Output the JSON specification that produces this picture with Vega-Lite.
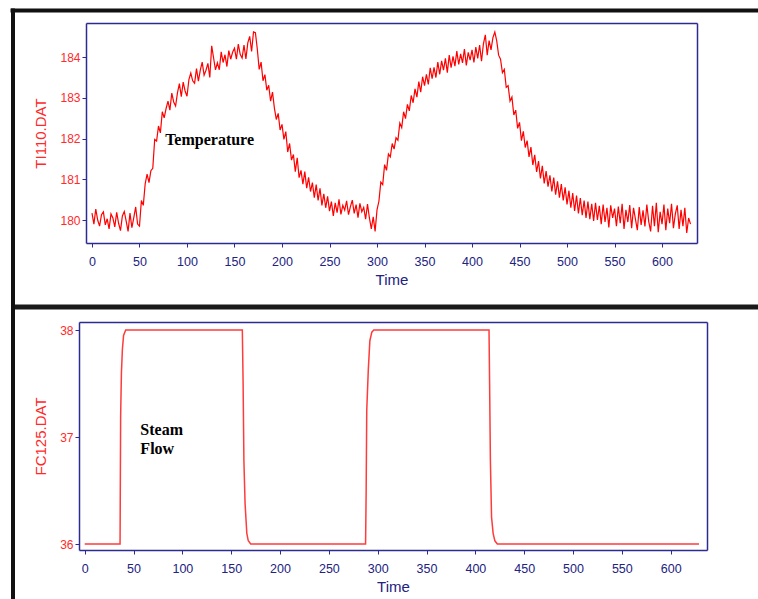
{
  "$schema": "https://vega.github.io/schema/vega-lite/v6.json",
  "width": 758,
  "height": 599,
  "autosize": {"type": "none"},
  "padding": 0,
  "background": "white",
  "config": {"view": {"stroke": null}},
  "datasets": {
    "temp": [
      {"t":0,"v":180.17},{"t":2,"v":179.90},{"t":4,"v":180.27},{"t":6,"v":180.00},{"t":8,"v":179.85},{"t":10,"v":180.13},{"t":12,"v":180.20},{"t":14,"v":179.88},{"t":16,"v":180.03},{"t":18,"v":179.78},
      {"t":20,"v":180.15},{"t":22,"v":180.05},{"t":24,"v":179.83},{"t":26,"v":180.19},{"t":28,"v":179.92},{"t":30,"v":179.74},{"t":32,"v":180.10},{"t":34,"v":180.21},{"t":36,"v":179.97},{"t":38,"v":179.72},
      {"t":40,"v":180.17},{"t":42,"v":179.81},{"t":44,"v":180.06},{"t":46,"v":180.32},{"t":48,"v":179.90},{"t":50,"v":179.85},{"t":52,"v":180.48},{"t":54,"v":180.36},{"t":56,"v":180.89},{"t":58,"v":181.13},
      {"t":60,"v":180.92},{"t":62,"v":181.21},{"t":64,"v":181.27},{"t":66,"v":181.98},{"t":68,"v":181.94},{"t":70,"v":182.31},{"t":72,"v":182.14},{"t":74,"v":182.66},{"t":76,"v":182.51},{"t":78,"v":182.74},
      {"t":80,"v":182.92},{"t":82,"v":182.70},{"t":84,"v":183.12},{"t":86,"v":182.90},{"t":88,"v":182.80},{"t":90,"v":183.13},{"t":92,"v":183.35},{"t":94,"v":183.03},{"t":96,"v":183.39},{"t":98,"v":183.17},
      {"t":100,"v":183.04},{"t":102,"v":183.45},{"t":104,"v":183.61},{"t":106,"v":183.42},{"t":108,"v":183.36},{"t":110,"v":183.72},{"t":112,"v":183.41},{"t":114,"v":183.68},{"t":116,"v":183.88},{"t":118,"v":183.56},
      {"t":120,"v":183.68},{"t":122,"v":183.85},{"t":124,"v":183.50},{"t":126,"v":184.28},{"t":128,"v":183.98},{"t":130,"v":183.69},{"t":132,"v":183.86},{"t":134,"v":183.69},{"t":136,"v":184.13},{"t":138,"v":183.87},
      {"t":140,"v":184.06},{"t":142,"v":183.77},{"t":144,"v":184.16},{"t":146,"v":183.95},{"t":148,"v":184.12},{"t":150,"v":184.22},{"t":152,"v":183.95},{"t":154,"v":184.32},{"t":156,"v":184.07},{"t":158,"v":183.98},
      {"t":160,"v":184.30},{"t":162,"v":183.96},{"t":164,"v":184.35},{"t":166,"v":184.51},{"t":168,"v":184.14},{"t":170,"v":184.62},{"t":172,"v":184.60},{"t":174,"v":184.20},{"t":176,"v":183.70},{"t":178,"v":183.88},
      {"t":180,"v":183.42},{"t":182,"v":183.57},{"t":184,"v":183.19},{"t":186,"v":183.31},{"t":188,"v":182.92},{"t":190,"v":183.14},{"t":192,"v":182.75},{"t":194,"v":182.47},{"t":196,"v":182.62},{"t":198,"v":182.21},
      {"t":200,"v":182.35},{"t":202,"v":181.98},{"t":204,"v":182.17},{"t":206,"v":181.67},{"t":208,"v":181.88},{"t":210,"v":181.47},{"t":212,"v":181.61},{"t":214,"v":181.19},{"t":216,"v":181.53},{"t":218,"v":181.04},
      {"t":220,"v":181.22},{"t":222,"v":180.88},{"t":224,"v":181.19},{"t":226,"v":180.78},{"t":228,"v":181.05},{"t":230,"v":180.70},{"t":232,"v":180.92},{"t":234,"v":180.55},{"t":236,"v":180.87},{"t":238,"v":180.48},
      {"t":240,"v":180.78},{"t":242,"v":180.36},{"t":244,"v":180.64},{"t":246,"v":180.30},{"t":248,"v":180.58},{"t":250,"v":180.22},{"t":252,"v":180.45},{"t":254,"v":180.10},{"t":256,"v":180.42},{"t":258,"v":180.18},
      {"t":260,"v":180.51},{"t":262,"v":180.14},{"t":264,"v":180.36},{"t":266,"v":180.24},{"t":268,"v":180.47},{"t":270,"v":180.13},{"t":272,"v":180.33},{"t":274,"v":180.49},{"t":276,"v":180.16},{"t":278,"v":180.38},
      {"t":280,"v":180.06},{"t":282,"v":180.41},{"t":284,"v":180.20},{"t":286,"v":180.31},{"t":288,"v":180.02},{"t":290,"v":180.39},{"t":292,"v":180.05},{"t":294,"v":179.78},{"t":296,"v":180.08},{"t":298,"v":179.72},
      {"t":300,"v":180.25},{"t":302,"v":180.46},{"t":304,"v":180.93},{"t":306,"v":180.87},{"t":308,"v":181.36},{"t":310,"v":181.22},{"t":312,"v":181.62},{"t":314,"v":181.55},{"t":316,"v":181.88},{"t":318,"v":181.74},
      {"t":320,"v":182.02},{"t":322,"v":181.96},{"t":324,"v":182.38},{"t":326,"v":182.27},{"t":328,"v":182.66},{"t":330,"v":182.49},{"t":332,"v":182.84},{"t":334,"v":182.68},{"t":336,"v":183.06},{"t":338,"v":182.88},
      {"t":340,"v":183.22},{"t":342,"v":183.02},{"t":344,"v":183.40},{"t":346,"v":183.14},{"t":348,"v":183.52},{"t":350,"v":183.30},{"t":352,"v":183.58},{"t":354,"v":183.33},{"t":356,"v":183.74},{"t":358,"v":183.47},
      {"t":360,"v":183.75},{"t":362,"v":183.50},{"t":364,"v":183.88},{"t":366,"v":183.58},{"t":368,"v":183.91},{"t":370,"v":183.68},{"t":372,"v":183.97},{"t":374,"v":183.62},{"t":376,"v":184.05},{"t":378,"v":183.74},
      {"t":380,"v":184.02},{"t":382,"v":183.78},{"t":384,"v":184.15},{"t":386,"v":183.82},{"t":388,"v":184.08},{"t":390,"v":183.86},{"t":392,"v":184.20},{"t":394,"v":183.80},{"t":396,"v":184.12},{"t":398,"v":183.93},
      {"t":400,"v":184.18},{"t":402,"v":183.87},{"t":404,"v":184.25},{"t":406,"v":183.97},{"t":408,"v":184.30},{"t":410,"v":183.90},{"t":412,"v":184.33},{"t":414,"v":184.55},{"t":416,"v":184.05},{"t":418,"v":184.41},
      {"t":420,"v":184.18},{"t":422,"v":184.48},{"t":424,"v":184.62},{"t":426,"v":184.40},{"t":428,"v":184.05},{"t":430,"v":183.95},{"t":432,"v":183.62},{"t":434,"v":183.70},{"t":436,"v":183.26},{"t":438,"v":183.30},
      {"t":440,"v":182.92},{"t":442,"v":183.02},{"t":444,"v":182.58},{"t":446,"v":182.70},{"t":448,"v":182.25},{"t":450,"v":182.40},{"t":452,"v":181.95},{"t":454,"v":182.18},{"t":456,"v":181.78},{"t":458,"v":181.95},
      {"t":460,"v":181.55},{"t":462,"v":181.79},{"t":464,"v":181.35},{"t":466,"v":181.60},{"t":468,"v":181.18},{"t":470,"v":181.45},{"t":472,"v":181.02},{"t":474,"v":181.33},{"t":476,"v":180.90},{"t":478,"v":181.20},
      {"t":480,"v":180.82},{"t":482,"v":181.10},{"t":484,"v":180.70},{"t":486,"v":181.04},{"t":488,"v":180.62},{"t":490,"v":180.95},{"t":492,"v":180.55},{"t":494,"v":180.88},{"t":496,"v":180.48},{"t":498,"v":180.80},
      {"t":500,"v":180.38},{"t":502,"v":180.72},{"t":504,"v":180.30},{"t":506,"v":180.66},{"t":508,"v":180.22},{"t":510,"v":180.60},{"t":512,"v":180.16},{"t":514,"v":180.54},{"t":516,"v":180.12},{"t":518,"v":180.48},
      {"t":520,"v":180.05},{"t":522,"v":180.45},{"t":524,"v":180.02},{"t":526,"v":180.40},{"t":528,"v":179.98},{"t":530,"v":180.42},{"t":532,"v":180.00},{"t":534,"v":180.35},{"t":536,"v":179.90},{"t":538,"v":180.38},
      {"t":540,"v":179.95},{"t":542,"v":180.30},{"t":544,"v":179.82},{"t":546,"v":180.36},{"t":548,"v":180.05},{"t":550,"v":180.28},{"t":552,"v":179.85},{"t":554,"v":180.33},{"t":556,"v":179.92},{"t":558,"v":180.40},
      {"t":560,"v":179.78},{"t":562,"v":180.25},{"t":564,"v":179.95},{"t":566,"v":180.37},{"t":568,"v":179.80},{"t":570,"v":180.30},{"t":572,"v":180.02},{"t":574,"v":179.75},{"t":576,"v":180.32},{"t":578,"v":179.88},
      {"t":580,"v":180.24},{"t":582,"v":179.84},{"t":584,"v":180.38},{"t":586,"v":179.96},{"t":588,"v":179.72},{"t":590,"v":180.35},{"t":592,"v":179.85},{"t":594,"v":180.42},{"t":596,"v":179.70},{"t":598,"v":180.20},
      {"t":600,"v":179.90},{"t":602,"v":180.38},{"t":604,"v":179.75},{"t":606,"v":180.28},{"t":608,"v":179.92},{"t":610,"v":180.40},{"t":612,"v":179.80},{"t":614,"v":180.15},{"t":616,"v":180.36},{"t":618,"v":179.78},
      {"t":620,"v":180.25},{"t":622,"v":179.85},{"t":624,"v":180.30},{"t":626,"v":179.68},{"t":628,"v":180.05},{"t":630,"v":179.90}
    ],
    "steam": [
      {"t":0,"v":36},{"t":36.2,"v":36},{"t":36.8,"v":37.2},{"t":37.6,"v":37.6},{"t":38.6,"v":37.82},{"t":39.8,"v":37.95},{"t":42,"v":38},
      {"t":161.4,"v":38},{"t":162.2,"v":37.5},{"t":163,"v":36.78},{"t":164.2,"v":36.38},{"t":166,"v":36.1},{"t":167.5,"v":36.03},{"t":170,"v":36},
      {"t":287.6,"v":36},{"t":288.2,"v":36.5},{"t":288.8,"v":37.25},{"t":290.4,"v":37.63},{"t":292,"v":37.9},{"t":294,"v":37.98},{"t":296,"v":38},
      {"t":414,"v":38},{"t":414.6,"v":37.5},{"t":415.4,"v":36.78},{"t":416.6,"v":36.25},{"t":418.2,"v":36.1},{"t":420,"v":36.03},{"t":422.5,"v":36},
      {"t":629,"v":36}
    ],
    "notesTop": [{"t":77,"v":181.85,"label":"Temperature"}],
    "notesBottom": [{"t":57,"v":37.02,"label":"Steam"},{"t":57,"v":36.84,"label":"Flow"}]
  },
  "resolve": {
    "scale": {"x": "independent", "y": "independent"},
    "axis": {"x": "independent", "y": "independent"}
  },
  "layer": [
    {
      "data": {"name": "temp"},
      "mark": {"type": "line", "color": "#ff0000", "strokeWidth": 1.2},
      "encoding": {
        "x": {"field": "t", "type": "quantitative",
          "scale": {"domain": [-6.3, 636.8], "range": [86, 697], "nice": false, "zero": false},
          "axis": {"orient": "bottom", "offset": -356, "values": [0,50,100,150,200,250,300,350,400,450,500,550,600],
            "grid": false, "domainColor": "#2b2b90", "domainWidth": 1.5, "tickColor": "#2b2b90", "tickSize": 4, "tickWidth": 1,
            "labelColor": "#22227f", "labelFont": "Liberation Sans", "labelFontSize": 12.5, "labelPadding": 8, "labelFlush": false, "labelOverlap": false,
            "title": "Time", "titleColor": "#22227f", "titleFont": "Liberation Sans", "titleFontSize": 15, "titleFontWeight": "normal", "titlePadding": 5}},
        "y": {"field": "v", "type": "quantitative",
          "scale": {"domain": [179.435, 184.84], "range": [243, 23], "nice": false, "zero": false},
          "axis": {"orient": "left", "offset": -86, "values": [180,181,182,183,184],
            "grid": false, "domainColor": "#2b2b90", "domainWidth": 1.5, "tickColor": "#2b2b90", "tickSize": 4, "tickWidth": 1,
            "labelColor": "#ff2a2a", "labelFont": "Liberation Sans", "labelFontSize": 12, "labelPadding": 2, "labelFlush": false, "labelOverlap": false,
            "title": "TI110.DAT", "titleColor": "#ff2a2a", "titleFont": "Liberation Sans", "titleFontSize": 15, "titleFontWeight": "normal", "titlePadding": 11}}
      }
    },
    {
      "data": {"name": "notesTop"},
      "mark": {"type": "text", "align": "left", "baseline": "alphabetic", "font": "Liberation Serif", "fontWeight": "bold", "fontSize": 16, "color": "#000000"},
      "encoding": {
        "x": {"field": "t", "type": "quantitative", "scale": {"domain": [-6.3, 636.8], "range": [86, 697], "nice": false, "zero": false}, "axis": null},
        "y": {"field": "v", "type": "quantitative", "scale": {"domain": [179.435, 184.84], "range": [243, 23], "nice": false, "zero": false}, "axis": null},
        "text": {"field": "label", "type": "nominal"}
      }
    },
    {
      "data": {"name": "temp"},
      "mark": {"type": "line", "opacity": 0},
      "encoding": {
        "x": {"field": "t", "type": "quantitative", "scale": {"domain": [-6.3, 636.8], "range": [86, 697], "nice": false, "zero": false},
          "axis": {"orient": "top", "offset": -23, "grid": false, "ticks": false, "labels": false, "title": null, "domainColor": "#2b2b90", "domainWidth": 1.5}},
        "y": {"field": "v", "type": "quantitative", "scale": {"domain": [179.435, 184.84], "range": [243, 23], "nice": false, "zero": false},
          "axis": {"orient": "right", "offset": -61, "grid": false, "ticks": false, "labels": false, "title": null, "domainColor": "#2b2b90", "domainWidth": 1.5}}
      }
    },
    {
      "data": {"name": "steam"},
      "mark": {"type": "line", "color": "#ff3b3b", "strokeWidth": 1.5},
      "encoding": {
        "x": {"field": "t", "type": "quantitative",
          "scale": {"domain": [-5.84, 637.2], "range": [79, 707], "nice": false, "zero": false},
          "axis": {"orient": "bottom", "offset": -49, "values": [0,50,100,150,200,250,300,350,400,450,500,550,600],
            "grid": false, "domainColor": "#2b2b90", "domainWidth": 1.5, "tickColor": "#2b2b90", "tickSize": 4, "tickWidth": 1,
            "labelColor": "#22227f", "labelFont": "Liberation Sans", "labelFontSize": 12.5, "labelPadding": 8, "labelFlush": false, "labelOverlap": false,
            "title": "Time", "titleColor": "#22227f", "titleFont": "Liberation Sans", "titleFontSize": 15, "titleFontWeight": "normal", "titlePadding": 5}},
        "y": {"field": "v", "type": "quantitative",
          "scale": {"domain": [35.944, 38.075], "range": [550, 322], "nice": false, "zero": false},
          "axis": {"orient": "left", "offset": -79, "values": [36,37,38],
            "grid": false, "domainColor": "#2b2b90", "domainWidth": 1.5, "tickColor": "#2b2b90", "tickSize": 4, "tickWidth": 1,
            "labelColor": "#ff2a2a", "labelFont": "Liberation Sans", "labelFontSize": 12, "labelPadding": 2, "labelFlush": false, "labelOverlap": false,
            "title": "FC125.DAT", "titleColor": "#ff2a2a", "titleFont": "Liberation Sans", "titleFontSize": 15, "titleFontWeight": "normal", "titlePadding": 11}}
      }
    },
    {
      "data": {"name": "notesBottom"},
      "mark": {"type": "text", "align": "left", "baseline": "alphabetic", "font": "Liberation Serif", "fontWeight": "bold", "fontSize": 16, "color": "#000000"},
      "encoding": {
        "x": {"field": "t", "type": "quantitative", "scale": {"domain": [-5.84, 637.2], "range": [79, 707], "nice": false, "zero": false}, "axis": null},
        "y": {"field": "v", "type": "quantitative", "scale": {"domain": [35.944, 38.075], "range": [550, 322], "nice": false, "zero": false}, "axis": null},
        "text": {"field": "label", "type": "nominal"}
      }
    },
    {
      "data": {"name": "steam"},
      "mark": {"type": "line", "opacity": 0},
      "encoding": {
        "x": {"field": "t", "type": "quantitative", "scale": {"domain": [-5.84, 637.2], "range": [79, 707], "nice": false, "zero": false},
          "axis": {"orient": "top", "offset": -322, "grid": false, "ticks": false, "labels": false, "title": null, "domainColor": "#2b2b90", "domainWidth": 1.5}},
        "y": {"field": "v", "type": "quantitative", "scale": {"domain": [35.944, 38.075], "range": [550, 322], "nice": false, "zero": false},
          "axis": {"orient": "right", "offset": -51, "grid": false, "ticks": false, "labels": false, "title": null, "domainColor": "#2b2b90", "domainWidth": 1.5}}
      }
    },
    {
      "data": {"name": "steam"},
      "mark": {"type": "line", "opacity": 0},
      "encoding": {
        "x": {"field": "t", "type": "quantitative", "scale": {"domain": [0, 630], "range": [10, 758], "nice": false, "zero": false},
          "axis": {"orient": "top", "offset": -10, "grid": false, "ticks": false, "labels": false, "title": null, "domainColor": "#111111", "domainWidth": 4}},
        "y": {"field": "v", "type": "quantitative", "scale": {"domain": [35, 39], "range": [599, 8], "nice": false, "zero": false},
          "axis": {"orient": "left", "offset": -12.5, "grid": false, "ticks": false, "labels": false, "title": null, "domainColor": "#111111", "domainWidth": 4}}
      }
    },
    {
      "data": {"name": "steam"},
      "mark": {"type": "line", "opacity": 0},
      "encoding": {
        "x": {"field": "t", "type": "quantitative", "scale": {"domain": [0, 630], "range": [10.5, 758], "nice": false, "zero": false},
          "axis": {"orient": "top", "offset": -306.5, "grid": false, "ticks": false, "labels": false, "title": null, "domainColor": "#1a1a1a", "domainWidth": 5}},
        "y": {"field": "v", "type": "quantitative", "scale": {"domain": [35, 39], "range": [599, 8], "nice": false, "zero": false}, "axis": null}
      }
    }
  ]
}
